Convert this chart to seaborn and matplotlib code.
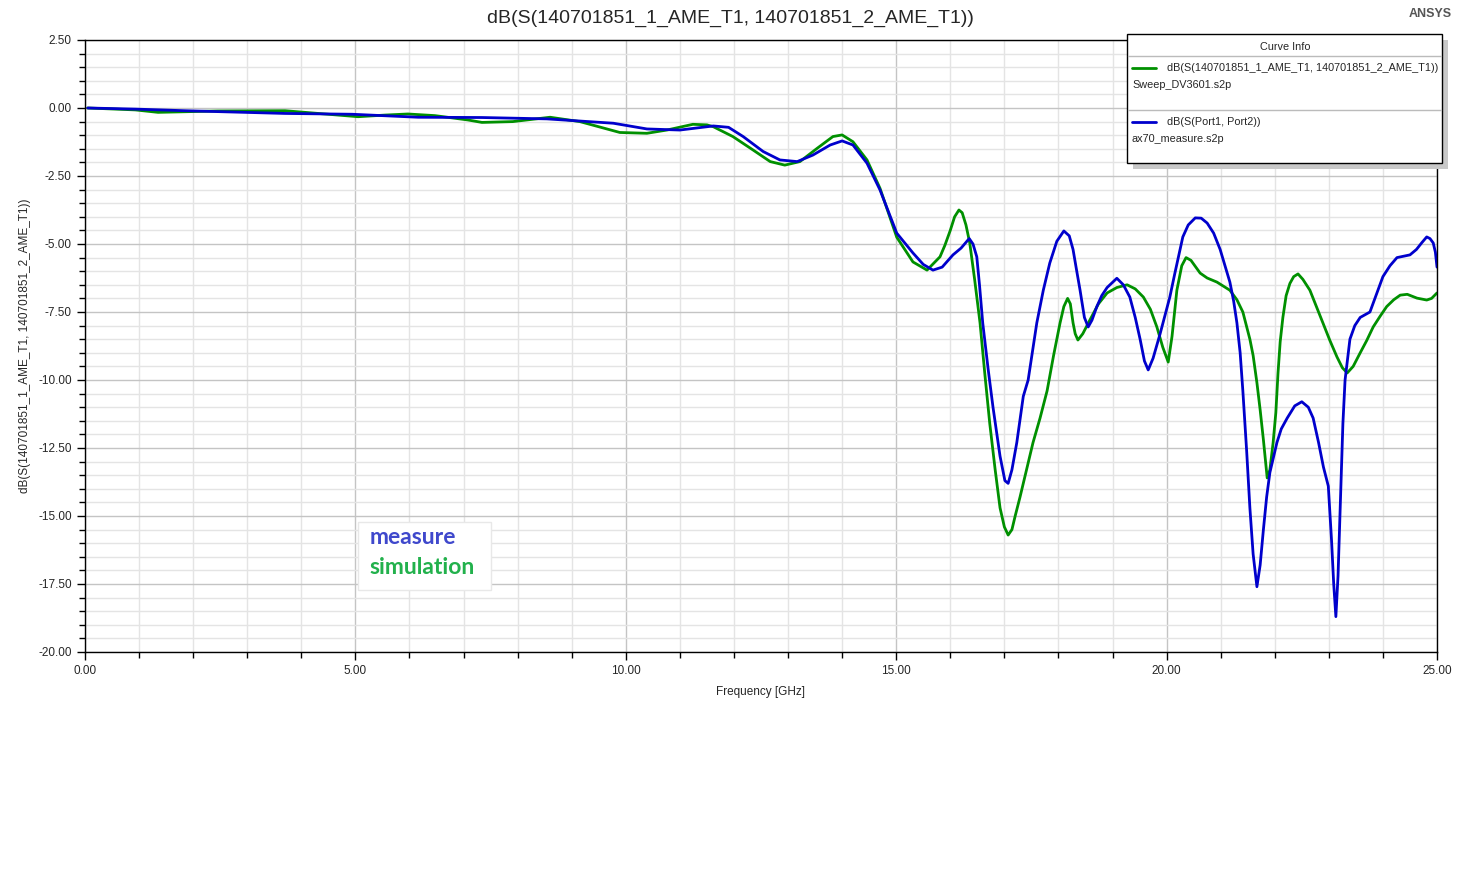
import numpy as np
import pandas as pd
import matplotlib
matplotlib.use("Agg")
import matplotlib.pyplot as plt
import seaborn as sns
from matplotlib.patches import Rectangle
from matplotlib.lines import Line2D
from matplotlib.ticker import MultipleLocator, FormatStrFormatter

# simulation: dB(S(140701851_1_AME_T1, 140701851_2_AME_T1)) - Sweep_DV3601.s2p
sim_freq = [0.05, 0.93, 1.35, 2.46, 3.7, 4.31, 5.05, 5.55, 5.97, 6.47, 7.08, 7.34, 7.91,
            8.6, 9.15, 9.89, 10.39, 10.76, 11.24, 11.5, 11.62, 11.98, 12.35, 12.67, 12.94,
            13.22, 13.54, 13.83, 14.0, 14.2, 14.46, 14.7, 15.01, 15.31, 15.57, 15.81, 15.9,
            16.0, 16.08, 16.16, 16.22, 16.29, 16.36, 16.45, 16.55, 16.64, 16.73, 16.83,
            16.92, 17.0, 17.07, 17.14, 17.2, 17.29, 17.41, 17.53, 17.66, 17.79, 17.91,
            18.03, 18.1, 18.17, 18.22, 18.27, 18.31, 18.36, 18.45, 18.58, 18.74, 18.9,
            19.08, 19.27, 19.42, 19.57, 19.7, 19.82, 19.93, 20.03, 20.1, 20.19, 20.28,
            20.36, 20.45, 20.62, 20.75, 20.93, 21.17, 21.3, 21.41, 21.54, 21.6, 21.67,
            21.73, 21.79, 21.83, 21.86, 21.91, 21.97, 22.02, 22.06, 22.1, 22.15, 22.21,
            22.28, 22.35, 22.43, 22.52, 22.65, 22.77, 22.89, 23.02, 23.15, 23.25, 23.34,
            23.45, 23.58, 23.7, 23.82, 23.95, 24.07, 24.2, 24.32, 24.45, 24.63, 24.81,
            24.9, 25.0]
sim_db = [0.0, -0.07, -0.16, -0.11, -0.1, -0.2, -0.32, -0.26, -0.22, -0.28, -0.44, -0.53, -0.5,
          -0.34, -0.5, -0.9, -0.93, -0.81, -0.6, -0.62, -0.69, -1.05, -1.54, -1.97, -2.1,
          -1.97, -1.48, -1.05, -0.99, -1.24, -1.91, -2.95, -4.75, -5.66, -5.96, -5.47, -5.05,
          -4.5, -4.0, -3.75, -3.85, -4.3, -4.96, -6.3, -7.9, -9.8, -11.6, -13.3,
          -14.7, -15.4, -15.7, -15.5, -15.0, -14.3, -13.3, -12.3, -11.4, -10.4, -9.1,
          -7.9, -7.3, -7.0, -7.2, -7.9, -8.3, -8.53, -8.3, -7.8, -7.2, -6.8,
          -6.6, -6.5, -6.65, -6.95, -7.4, -8.05, -8.8, -9.34, -8.4, -6.7, -5.8,
          -5.5, -5.6, -6.07, -6.25, -6.4, -6.7, -7.05, -7.5, -8.5, -9.1, -10.1,
          -11.1, -12.2, -13.0, -13.6, -13.3, -12.3, -11.2, -9.75, -8.6, -7.7, -6.9,
          -6.45, -6.2, -6.1, -6.3, -6.7, -7.3, -7.9, -8.55, -9.15, -9.55, -9.74,
          -9.5, -9.0, -8.55, -8.05, -7.65, -7.3, -7.05, -6.88, -6.85, -6.99, -7.06,
          -7.0, -6.8]

# measure: dB(S(Port1, Port2)) - ax70_measure.s2p
meas_freq = [0.05, 0.93, 1.85, 3.7, 4.94, 6.16, 7.34, 8.54, 9.77, 10.39, 11.0, 11.62, 11.9,
             12.17, 12.54, 12.85, 13.17, 13.46, 13.78, 14.0, 14.2, 14.46, 14.7, 15.01, 15.31,
             15.5, 15.68, 15.85, 16.05, 16.2, 16.35, 16.42, 16.49, 16.54, 16.6, 16.7, 16.79,
             16.92, 17.01, 17.07, 17.14, 17.23, 17.35, 17.44, 17.6, 17.72, 17.84, 17.97,
             18.1, 18.2, 18.27, 18.33, 18.4, 18.48, 18.55, 18.62, 18.71, 18.8, 18.9, 19.08,
             19.2, 19.32, 19.42, 19.51, 19.59, 19.66, 19.75, 19.88, 20.06, 20.15, 20.3, 20.4,
             20.53, 20.64, 20.75, 20.87, 20.99, 21.08, 21.17, 21.24, 21.3, 21.36, 21.41,
             21.48, 21.54, 21.6, 21.67, 21.73, 21.79, 21.85, 21.91, 22.04, 22.12, 22.23,
             22.37, 22.5, 22.62, 22.71, 22.81, 22.9, 22.99, 23.05, 23.09, 23.13, 23.17,
             23.21, 23.26, 23.3, 23.39, 23.48, 23.58, 23.76, 23.88, 24.0, 24.13, 24.26,
             24.38, 24.5, 24.62, 24.72, 24.81, 24.87, 24.93, 24.97, 25.0]
meas_db = [0.0, -0.04, -0.1, -0.2, -0.23, -0.34, -0.35, -0.4, -0.56, -0.77, -0.81, -0.66, -0.71,
           -1.05, -1.6, -1.91, -1.97, -1.73, -1.36, -1.21, -1.36, -2.03, -3.01, -4.6, -5.33,
           -5.75, -5.96, -5.85, -5.4, -5.15, -4.8, -5.0, -5.47, -6.5, -7.9, -9.6, -11.0,
           -12.8, -13.7, -13.8, -13.3, -12.3, -10.6, -10.0, -7.9, -6.7, -5.7, -4.9,
           -4.52, -4.7, -5.2, -5.9, -6.7, -7.7, -8.05, -7.8, -7.3, -6.9, -6.6, -6.26,
           -6.5, -6.95, -7.7, -8.5, -9.3, -9.63, -9.2, -8.3, -6.95, -6.1, -4.74, -4.3,
           -4.04, -4.05, -4.23, -4.6, -5.2, -5.8, -6.4, -7.1, -7.9, -9.0, -10.4,
           -12.6, -14.7, -16.4, -17.6, -16.8, -15.5, -14.3, -13.4, -12.3, -11.8, -11.4,
           -10.95, -10.8, -11.0, -11.4, -12.3, -13.2, -13.9, -15.9, -17.5, -18.7, -17.2,
           -14.7, -11.6, -10.0, -8.5, -8.0, -7.7, -7.5, -6.85, -6.2, -5.8, -5.5,
           -5.45, -5.4, -5.2, -4.95, -4.74, -4.8, -4.96, -5.3, -5.85]

title = "dB(S(140701851_1_AME_T1, 140701851_2_AME_T1))"
sim_name = "dB(S(140701851_1_AME_T1, 140701851_2_AME_T1))"
meas_name = "dB(S(Port1, Port2))"
colors = {sim_name: "#009000", meas_name: "#0000cc"}

df = pd.concat([
    pd.DataFrame({"freq": sim_freq, "db": sim_db, "curve": sim_name}),
    pd.DataFrame({"freq": meas_freq, "db": meas_db, "curve": meas_name}),
])

sns.set_theme(style="white")
plt.rcParams["font.family"] = ["Liberation Sans", "DejaVu Sans"]

W, H = 1465, 873
fig = plt.figure(figsize=(W / 100, H / 100), dpi=100)
ax = fig.add_axes([85 / W, 1 - 652 / H, (1437 - 85) / W, (652 - 40) / H])

sns.lineplot(data=df, x="freq", y="db", hue="curve", palette=colors,
             estimator=None, sort=False, linewidth=2, legend=False, ax=ax)

ax.set_xlim(0, 25)
ax.set_ylim(-20, 2.5)
ax.xaxis.set_major_locator(MultipleLocator(5))
ax.xaxis.set_minor_locator(MultipleLocator(1))
ax.yaxis.set_major_locator(MultipleLocator(2.5))
ax.yaxis.set_minor_locator(MultipleLocator(0.5))
ax.xaxis.set_major_formatter(FormatStrFormatter("%.2f"))
ax.yaxis.set_major_formatter(FormatStrFormatter("%.2f"))
ax.grid(which="major", color="#c4c4c4", linewidth=1)
ax.grid(which="minor", color="#e4e4e4", linewidth=1)
ax.set_axisbelow(True)
for s in ax.spines.values():
    s.set_color("black")
    s.set_linewidth(1)
ax.tick_params(which="major", direction="out", length=6, width=1, color="black",
               labelsize=8.5, bottom=True, left=True)
ax.tick_params(which="minor", direction="out", length=4, width=1, color="black",
               bottom=True, left=True)
ax.set_xlabel("Frequency [GHz]", fontsize=8.5, labelpad=6)
ax.set_ylabel(title, fontsize=8.5, labelpad=5)
fig.text(730 / W, 1 - 18 / H, title, fontsize=14, ha="center", va="center")
fig.text(1430 / W, 1 - 14 / H, "ANSYS", fontsize=9, fontweight="bold",
         color="#555555", ha="center", va="center")

# "measure / simulation" note box
ax.add_patch(Rectangle((358 / W, 1 - 590 / H), 133 / W, 68 / H, transform=fig.transFigure,
                       facecolor="white", edgecolor="#e8e8e8", zorder=5))
fig.text(370 / W, 1 - 537 / H, "measure", fontsize=16.5, fontweight="bold",
         family=["Lato", "DejaVu Sans"], color="#3f48cc", va="center", zorder=6)
fig.text(369 / W, 1 - 568 / H, "simulation", fontsize=16.5, fontweight="bold",
         family=["Lato", "DejaVu Sans"], color="#22b14c", va="center", zorder=6)

# Curve Info box with shadow
def fx(x):
    return x / W

def fy(y):
    return 1 - y / H

fig.add_artist(Rectangle((fx(1133), fy(169)), 315 / W, 129 / H, transform=fig.transFigure,
                         facecolor="#c8c8c8", edgecolor="none", zorder=7))
fig.add_artist(Rectangle((fx(1127), fy(163)), 315 / W, 129 / H, transform=fig.transFigure,
                         facecolor="white", edgecolor="black", linewidth=1, zorder=8))
fig.text(fx(1285), fy(47), "Curve Info", fontsize=7.8, ha="center", va="center", zorder=9)
for y in (56, 110):
    fig.add_artist(Line2D([fx(1128), fx(1441)], [fy(y), fy(y)], transform=fig.transFigure,
                          color="#bbbbbb", linewidth=1, zorder=9))
entries = [(sim_name, "Sweep_DV3601.s2p", 68), (meas_name, "ax70_measure.s2p", 122)]
for name, src, y in entries:
    fig.add_artist(Line2D([fx(1132), fx(1156)], [fy(y), fy(y)], transform=fig.transFigure,
                          color=colors[name], linewidth=2, zorder=9))
    fig.text(fx(1167), fy(y), name, fontsize=7.8, va="center", zorder=9)
    fig.text(fx(1132), fy(y + 17), src, fontsize=7.8, va="center", zorder=9)

fig.savefig("out.png", dpi=100)
